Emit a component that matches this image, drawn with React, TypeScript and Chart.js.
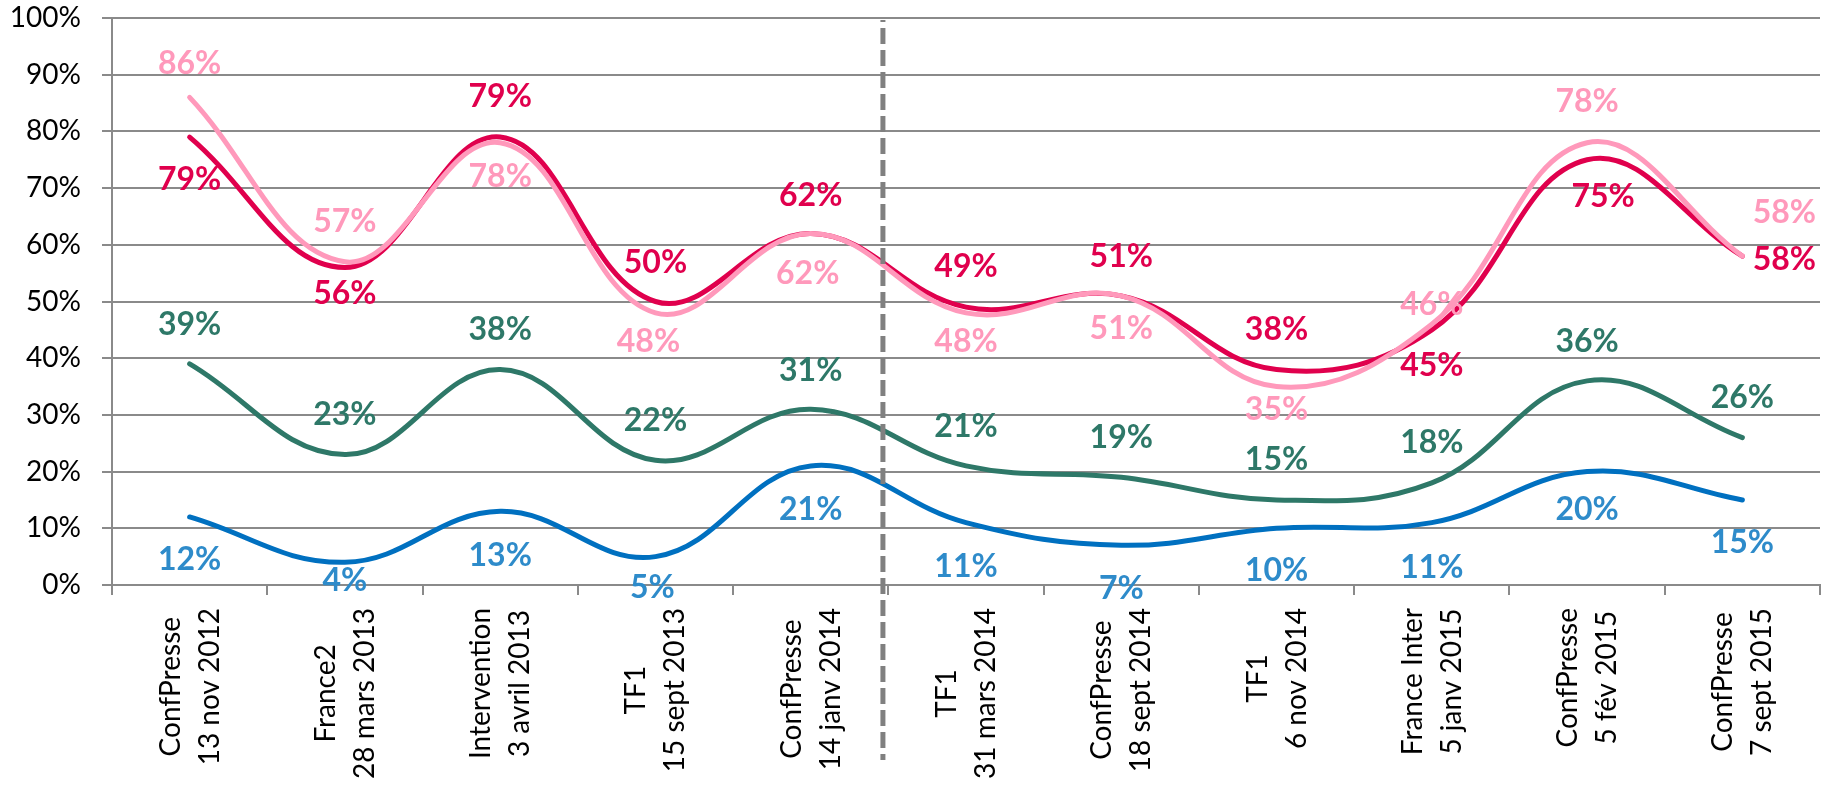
import React, { useEffect, useRef } from "react";
import { Chart, registerables } from "chart.js";

Chart.register(...registerables);

// ---------- data ----------
const categories: string[][] = [
  ["ConfPresse", "13 nov 2012"],
  ["France2", "28 mars 2013"],
  ["Intervention", "3 avril 2013"],
  ["TF1", "15 sept 2013"],
  ["ConfPresse", "14 janv 2014"],
  ["TF1", "31 mars 2014"],
  ["ConfPresse", "18 sept 2014"],
  ["TF1", "6 nov 2014"],
  ["France Inter", "5 janv 2015"],
  ["ConfPresse", "5 fév 2015"],
  ["ConfPresse", "7 sept 2015"],
];

const lightPink = [86, 57, 78, 48, 62, 48, 51, 35, 46, 78, 58];
const darkPink = [79, 56, 79, 50, 62, 49, 51, 38, 45, 75, 58];
const green = [39, 23, 38, 22, 31, 21, 19, 15, 18, 36, 26];
const blue = [12, 4, 13, 5, 21, 11, 7, 10, 11, 20, 15];

const yMin = 0;
const yMax = 100;
const yStep = 10;

// position of the dashed separator, in category units
const dividerAt = 4.465;

// data-label offsets relative to each point (px)
const lightPinkLabelDx = [0, 0, 0, -7, -3, 0, 0, 0, 0, 0, 42];
const lightPinkLabelDy = [-34, -40, 34, 29, 40, 29, 33, 23, -19, -41, -43];
const darkPinkLabelDx = [0, 0, 0, 0, 0, 0, 0, 0, 0, 16, 42];
const darkPinkLabelDy = [43, 26, -40, -39, -38, -40, -39, -40, 36, 37, 4];
const greenLabelDx = [0, 0, 0, 0, 0, 0, 0, 0, 0, 0, 0];
const greenLabelDy = [-39, -40, -40, -40, -39, -39, -40, -40, -40, -39, -40];
const blueLabelDx = [0, 0, 0, -3, 0, 0, 0, 0, 0, 0, 0];
const blueLabelDy = [43, 18, 44, 31, 44, 44, 43, 42, 45, 38, 43];

// ---------- styles ----------
const FONT = "Lato, 'Open Sans', sans-serif";
const GRID = "#8a8a8a";
const C_LIGHT = "#FF99BB";
const C_DARK = "#E0004D";
const C_GREEN = "#2E7868";
const C_BLUE = "#0070C0";
const C_BLUE_LABEL = "#2E8BCA";

const labelCfg = [
  { color: C_LIGHT, dx: lightPinkLabelDx, dy: lightPinkLabelDy },
  { color: C_DARK, dx: darkPinkLabelDx, dy: darkPinkLabelDy },
  { color: C_GREEN, dx: greenLabelDx, dy: greenLabelDy },
  { color: C_BLUE_LABEL, dx: blueLabelDx, dy: blueLabelDy },
];

const dividerPlugin = {
  id: "divider",
  afterDatasetsDraw(chart: any) {
    const ctx = chart.ctx;
    const x = chart.scales.x.getPixelForValue(dividerAt);
    ctx.save();
    ctx.strokeStyle = "#808080";
    ctx.lineWidth = 5;
    ctx.setLineDash([16, 6]);
    ctx.lineDashOffset = 14;
    ctx.beginPath();
    ctx.moveTo(x, chart.chartArea.top + 2);
    ctx.lineTo(x, chart.chartArea.bottom + 175);
    ctx.stroke();
    ctx.restore();
  },
};

const valueLabelPlugin = {
  id: "valueLabels",
  afterDatasetsDraw(chart: any) {
    const ctx = chart.ctx;
    chart.data.datasets.forEach((ds: any, di: number) => {
      const meta = chart.getDatasetMeta(di);
      const cfg = labelCfg[di];
      ctx.save();
      ctx.font = `bold 32px ${FONT}`;
      ctx.fillStyle = cfg.color;
      ctx.textAlign = "center";
      ctx.textBaseline = "middle";
      meta.data.forEach((pt: any, i: number) => {
        ctx.fillText(`${ds.data[i]}%`, pt.x + cfg.dx[i], pt.y + cfg.dy[i]);
      });
      ctx.restore();
    });
  },
};

const categoryLabelPlugin = {
  id: "categoryLabels",
  afterDraw(chart: any) {
    const ctx = chart.ctx;
    const xs = chart.scales.x;
    const top = xs.top + 23;
    const lh = 39;
    ctx.save();
    ctx.font = `28px ${FONT}`;
    ctx.fillStyle = "#000";
    ctx.textAlign = "center";
    ctx.textBaseline = "middle";
    categories.forEach((lines, i) => {
      const px = xs.getPixelForTick(i);
      const maxW = Math.max(...lines.map((l) => ctx.measureText(l).width));
      ctx.save();
      ctx.translate(px, top);
      ctx.rotate(-Math.PI / 2);
      lines.forEach((l, j) => {
        const off = (j - (lines.length - 1) / 2) * lh + 0.5;
        ctx.fillText(l, -maxW / 2, off);
      });
      ctx.restore();
    });
    ctx.restore();
  },
};

export default function App() {
  const ref = useRef<HTMLCanvasElement | null>(null);

  useEffect(() => {
    document.body.style.margin = "0";
    if (!ref.current) return;
    const mk = (data: number[], color: string) => ({
      data,
      borderColor: color,
      backgroundColor: color,
      borderWidth: 5,
      pointRadius: 0,
      pointHoverRadius: 0,
      tension: 0.4,
      fill: false,
      borderCapStyle: "round" as const,
      borderJoinStyle: "round" as const,
    });
    const chart = new Chart(ref.current, {
      type: "line",
      data: {
        labels: categories.map((c) => c.join(" ")),
        datasets: [
          mk(lightPink, C_LIGHT),
          mk(darkPink, C_DARK),
          mk(green, C_GREEN),
          mk(blue, C_BLUE),
        ],
      },
      options: {
        responsive: false,
        animation: false,
        events: [],
        layout: { padding: { left: 0, right: 10, top: 18, bottom: 0 } },
        plugins: {
          legend: { display: false },
          tooltip: { enabled: false },
        },
        scales: {
          x: {
            type: "category",
            offset: true,
            grid: {
              offset: true,
              drawOnChartArea: false,
              drawTicks: true,
              tickLength: 10,
              color: GRID,
              lineWidth: 2,
            },
            border: { display: true, color: GRID, width: 2 },
            ticks: { display: false },
            afterFit: (s: any) => {
              s.height = 203;
              s.paddingLeft = 0;
              s.paddingRight = 0;
              s.paddingTop = 0;
              s.paddingBottom = 0;
            },
          },
          y: {
            min: yMin,
            max: yMax,
            grid: {
              color: GRID,
              lineWidth: 2,
              drawTicks: true,
              tickLength: 10,
            },
            border: { display: true, color: GRID, width: 2 },
            ticks: {
              stepSize: yStep,
              padding: 21,
              color: "#000",
              font: { family: FONT, size: 28 },
              callback: (v: any) => `${v}%`,
            },
            afterFit: (s: any) => {
              s.width = 112;
              s.paddingTop = 0;
              s.paddingBottom = 0;
              s.paddingLeft = 0;
              s.paddingRight = 0;
            },
          },
        },
      },
      plugins: [dividerPlugin, valueLabelPlugin, categoryLabelPlugin],
    });
    return () => chart.destroy();
  }, []);

  return (
    <div style={{ position: "absolute", left: 0, top: 0, width: 1830, height: 788, background: "#fff" }}>
      <canvas ref={ref} width={1830} height={788} style={{ display: "block" }} />
    </div>
  );
}
